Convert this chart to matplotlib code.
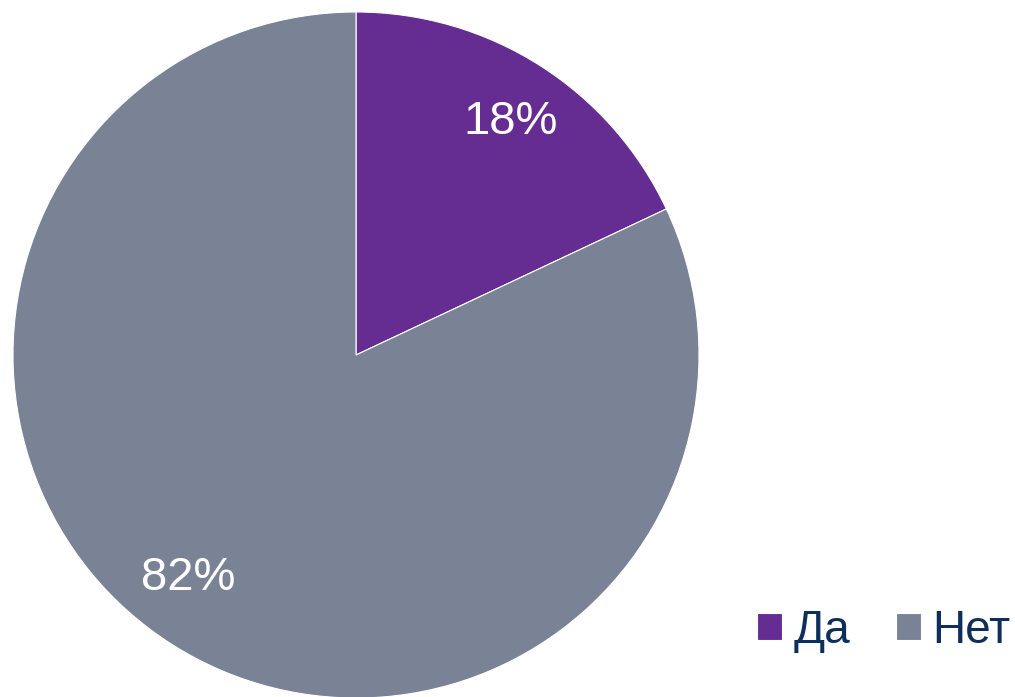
import matplotlib
matplotlib.use("Agg")
import matplotlib.pyplot as plt

labels = ["Да", "Нет"]
values = [18, 82]
colors = ["#652D91", "#7A8395"]

plt.rcParams['font.family'] = ['Liberation Sans', 'DejaVu Sans']

W, H = 1015, 697
fig = plt.figure(figsize=(W / 100, H / 100), dpi=100)
ax = fig.add_axes([13 / W, -1 / H, 686 / W, 686 / H])

wedges, texts, autotexts = ax.pie(
    values, colors=colors, startangle=90, counterclock=False,
    autopct=lambda p: f"{p:.0f}%", pctdistance=0.81,
    wedgeprops=dict(edgecolor="white", linewidth=0.8),
    textprops=dict(color="white", fontsize=34))
# nudge labels to where the original sits them
autotexts[0].set_position((0.45, 0.68))
autotexts[1].set_position((-0.49, -0.65))
ax.set_xlim(-1, 1)
ax.set_ylim(-1, 1)
ax.set_aspect("equal")

leg = fig.legend(wedges, labels, loc="lower right", bbox_to_anchor=(1.0, 0.057),
                 ncol=2, frameon=False, fontsize=33, handlelength=0.54,
                 handleheight=0.54, handletextpad=0.25, columnspacing=1.0,
                 borderaxespad=0, borderpad=0.1)
for t in leg.get_texts():
    t.set_color("#0E2F5A")

fig.savefig("out.png", dpi=100)
